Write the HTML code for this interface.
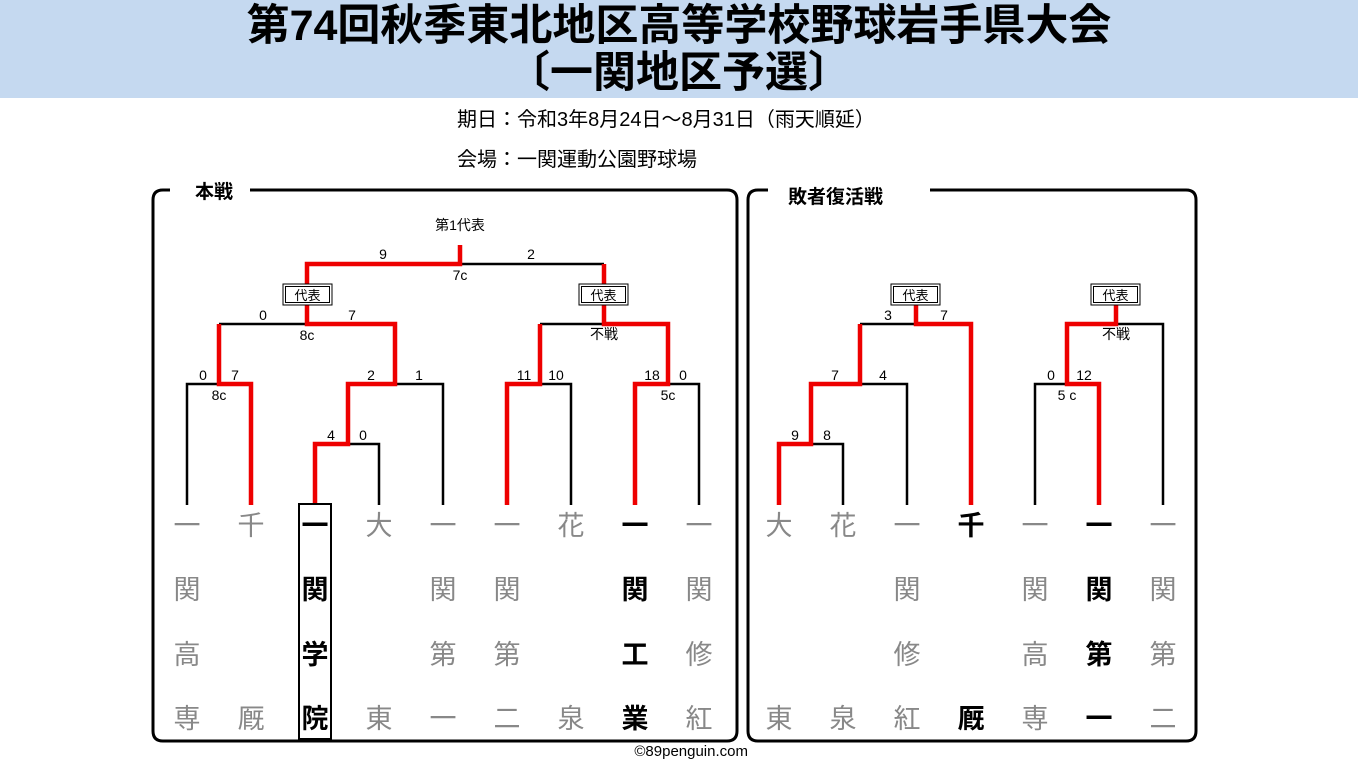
<!DOCTYPE html>
<html><head><meta charset="utf-8"><style>
html,body{margin:0;padding:0;background:#fff;}
svg{display:block;font-family:"Liberation Sans","Noto Sans CJK JP",sans-serif;}
</style></head><body>
<svg width="1358" height="763" viewBox="0 0 1358 763" xmlns="http://www.w3.org/2000/svg">
<rect x="0" y="0" width="1358" height="98" fill="#c5d9f0"/>
<text x="679" y="40" text-anchor="middle" font-size="43" font-weight="bold" fill="#000">第74回秋季東北地区高等学校野球岩手県大会</text>
<text x="679" y="87" text-anchor="middle" font-size="43" font-weight="bold" fill="#000">〔一関地区予選〕</text>
<text x="457" y="126" font-size="20" fill="#000">期日：令和3年8月24日～8月31日（雨天順延）</text>
<text x="457" y="166" font-size="20" fill="#000">会場：一関運動公園野球場</text>

<path d="M170 190 H163 Q153 190 153 200 V731 Q153 741 163 741 H727 Q737 741 737 731 V200 Q737 190 727 190 H250" fill="none" stroke="#000" stroke-width="3"/>
<text x="195" y="198" font-size="19" font-weight="bold">本戦</text>
<path d="M768 190 H758 Q748 190 748 200 V731 Q748 741 758 741 H1186 Q1196 741 1196 731 V200 Q1196 190 1186 190 H930" fill="none" stroke="#000" stroke-width="3"/>
<text x="788" y="203" font-size="19" font-weight="bold">敗者復活戦</text>

<g fill="none" stroke="#000" stroke-width="2.5">
<path d="M187 505 V384 H251"/>
<path d="M379 505 V444 H348"/>
<path d="M443 505 V384 H395"/>
<path d="M219 324 H307"/>
<path d="M460 264 H604"/>
<path d="M540 324 H604"/>
<path d="M571 505 V384 H540"/>
<path d="M699 505 V384 H668"/>
<path d="M843 505 V444 H811"/>
<path d="M907 505 V384 H860"/>
<path d="M860 324 H916"/>
<path d="M1035 505 V384 H1067"/>
<path d="M1163 505 V324 H1116"/>
</g>
<g fill="none" stroke="#e00" stroke-width="4.5" stroke-linejoin="miter">
<path d="M251 505 V384 H219 V324"/>
<path d="M315 505 V444 H348 V384 H395 V324 H307 V305"/>
<path d="M307 284 V264 H460 V245"/>
<path d="M604 264 V284"/>
<path d="M604 305 V324 H668 V384 H635 V505"/>
<path d="M507 505 V384 H540 V324"/>
<path d="M779 505 V444 H811 V384 H860 V324"/>
<path d="M916 305 V324 H971 V505"/>
<path d="M1099 505 V384 H1067 V324 H1116 V305"/>
</g>
<g font-size="13" text-anchor="middle">
<rect x="283" y="284" width="49" height="21" fill="#fff" stroke="#000" stroke-width="1"/><rect x="285.5" y="286.5" width="44" height="16" fill="none" stroke="#000" stroke-width="1"/><text x="307.5" y="300">代表</text>
<rect x="579" y="284" width="49" height="21" fill="#fff" stroke="#000" stroke-width="1"/><rect x="581.5" y="286.5" width="44" height="16" fill="none" stroke="#000" stroke-width="1"/><text x="603.5" y="300">代表</text>
<rect x="891" y="284" width="49" height="21" fill="#fff" stroke="#000" stroke-width="1"/><rect x="893.5" y="286.5" width="44" height="16" fill="none" stroke="#000" stroke-width="1"/><text x="915.5" y="300">代表</text>
<rect x="1091" y="284" width="49" height="21" fill="#fff" stroke="#000" stroke-width="1"/><rect x="1093.5" y="286.5" width="44" height="16" fill="none" stroke="#000" stroke-width="1"/><text x="1115.5" y="300">代表</text>
</g>
<g font-size="14" text-anchor="middle" fill="#000">
<text x="460" y="230">第1代表</text>
<text x="383" y="259">9</text><text x="531" y="259">2</text><text x="460" y="280">7c</text>
<text x="263" y="320">0</text><text x="352" y="320">7</text><text x="307" y="340">8c</text>
<text x="203" y="380">0</text><text x="235" y="380">7</text><text x="219" y="400">8c</text>
<text x="371" y="380">2</text><text x="419" y="380">1</text>
<text x="331" y="440">4</text><text x="363" y="440">0</text>
<text x="524" y="380">11</text><text x="556" y="380">10</text>
<text x="652" y="380">18</text><text x="683" y="380">0</text><text x="668" y="400">5c</text>
<text x="604" y="339">不戦</text>
<text x="888" y="320">3</text><text x="944" y="320">7</text>
<text x="835" y="380">7</text><text x="883" y="380">4</text>
<text x="795" y="440">9</text><text x="827" y="440">8</text>
<text x="1051" y="380">0</text><text x="1084" y="380">12</text><text x="1067" y="400">5 c</text>
<text x="1116" y="339">不戦</text>
</g>
<rect x="299" y="504" width="32" height="235" fill="none" stroke="#000" stroke-width="2"/>
<g font-size="27" text-anchor="middle" fill="#888">
<text x="187" y="535">一</text><text x="187" y="599">関</text><text x="187" y="664">高</text><text x="187" y="728">専</text>
<text x="251" y="535">千</text><text x="251" y="728">厩</text>
<text x="379" y="535">大</text><text x="379" y="728">東</text>
<text x="443" y="535">一</text><text x="443" y="599">関</text><text x="443" y="664">第</text><text x="443" y="728">一</text>
<text x="507" y="535">一</text><text x="507" y="599">関</text><text x="507" y="664">第</text><text x="507" y="728">二</text>
<text x="571" y="535">花</text><text x="571" y="728">泉</text>
<text x="699" y="535">一</text><text x="699" y="599">関</text><text x="699" y="664">修</text><text x="699" y="728">紅</text>
<text x="779" y="535">大</text><text x="779" y="728">東</text>
<text x="843" y="535">花</text><text x="843" y="728">泉</text>
<text x="907" y="535">一</text><text x="907" y="599">関</text><text x="907" y="664">修</text><text x="907" y="728">紅</text>
<text x="1035" y="535">一</text><text x="1035" y="599">関</text><text x="1035" y="664">高</text><text x="1035" y="728">専</text>
<text x="1163" y="535">一</text><text x="1163" y="599">関</text><text x="1163" y="664">第</text><text x="1163" y="728">二</text>
</g>
<g font-size="27" text-anchor="middle" fill="#000" font-weight="bold">
<text x="315" y="535">一</text><text x="315" y="599">関</text><text x="315" y="664">学</text><text x="315" y="728">院</text>
<text x="635" y="535">一</text><text x="635" y="599">関</text><text x="635" y="664">工</text><text x="635" y="728">業</text>
<text x="971" y="535">千</text><text x="971" y="728">厩</text>
<text x="1099" y="535">一</text><text x="1099" y="599">関</text><text x="1099" y="664">第</text><text x="1099" y="728">一</text>
</g>
<text x="748" y="756" text-anchor="end" font-size="15" fill="#000">©89penguin.com</text>
</svg>
</body></html>
